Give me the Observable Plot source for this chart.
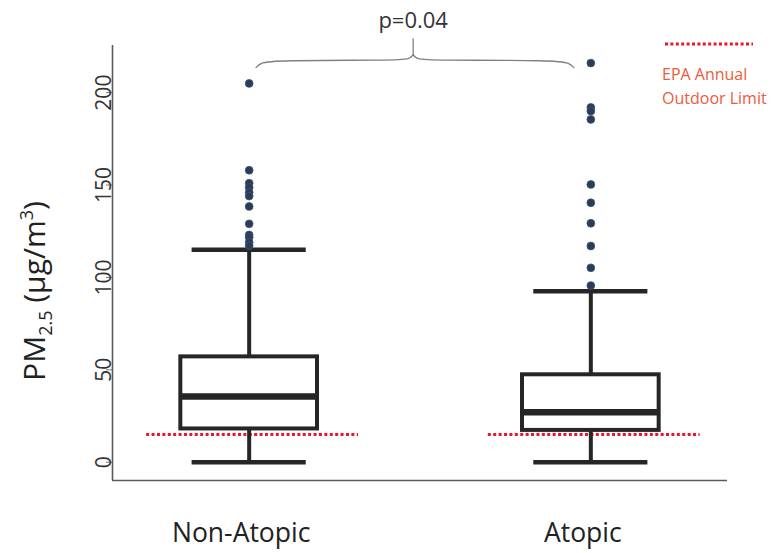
<!DOCTYPE html>
<html>
<head>
<meta charset="utf-8">
<script src="https://cdn.jsdelivr.net/npm/d3@7"></script>
<script src="https://cdn.jsdelivr.net/npm/@observablehq/plot@0.6"></script>
<style>
  html, body { margin: 0; padding: 0; background: #fff; }
  #chart { position: relative; width: 780px; height: 553px; }
</style>
</head>
<body>
<div id="chart"></div>
<script>
// ---- data ----
const groups = ["Non-Atopic", "Atopic"];
const whiskerLow = [0, 0];
const q1 = [18, 17.2];
const median = [35.5, 27];
const q3 = [57, 47.3];
const whiskerHigh = [115, 92.5];
const outliersNonAtopic = [205, 158, 151, 148.7, 146, 144, 138.4, 129, 123, 121.7, 119, 117.2];
const outliersAtopic = [216, 192, 190, 185.5, 150.3, 140.4, 129.3, 117, 105.2, 95.6];
const epaLimit = 15;
const yTicks = [0, 50, 100, 150, 200];
const pLabel = "p=0.04";
const legendLines = ["EPA Annual", "Outdoor Limit"];

// ---- derived tables ----
const xDomain = [-0.4, 1.4];
const yDomain = [-9.9, 225.5];
const boxHalf = 0.2, capHalf = 0.167;
const boxes = groups.map((g, i) => ({g, i, lo: whiskerLow[i], q1: q1[i], med: median[i], q3: q3[i], hi: whiskerHigh[i]}));
const outliers = [
  ...outliersNonAtopic.map(v => ({i: 0, v})),
  ...outliersAtopic.map(v => ({i: 1, v}))
];
const caps = boxes.flatMap(b => [{i: b.i, v: b.lo}, {i: b.i, v: b.hi}]);
const epa = boxes.map(b => ({i: b.i, x1: b.i - 0.3, x2: b.i + 0.32, v: epaLimit}));

// brace between the two groups
const bx0 = 0 + 0.02, bx1 = 1 - 0.05, bmid = (bx0 + bx1) / 2 - 0.005;
const bY = 217.5, bDrop = 4, bTip = 229;
const brace = [
  {part: "L", x: bx0, y: bY - bDrop}, {part: "L", x: bx0 + 0.012, y: bY - 1.5}, {part: "L", x: bx0 + 0.05, y: bY},
  {part: "L", x: bmid - 0.05, y: bY}, {part: "L", x: bmid - 0.01, y: bY + 0.6}, {part: "L", x: bmid, y: bY + 3},
  {part: "R", x: bmid, y: bY + 3}, {part: "R", x: bmid + 0.01, y: bY + 0.6}, {part: "R", x: bmid + 0.05, y: bY},
  {part: "R", x: bx1 - 0.05, y: bY}, {part: "R", x: bx1 - 0.012, y: bY - 1.5}, {part: "R", x: bx1, y: bY - bDrop}
];
const stem = [{x: bmid, y1: bY + 2, y2: bTip}];

const ink = "#262626";

const chart = Plot.plot({
  width: 780,
  height: 553,
  marginTop: 45,
  marginBottom: 73,
  marginLeft: 112,
  marginRight: 53,
  style: {fontFamily: "'Open Sans', sans-serif", background: "#fff"},
  x: {domain: xDomain, axis: null},
  y: {domain: yDomain, axis: null},
  marks: [
    // axes
    Plot.ruleX([xDomain[0]], {stroke: "#5a5a5a", strokeWidth: 1.6}),
    Plot.ruleY([yDomain[0]], {stroke: "#5a5a5a", strokeWidth: 1.6}),
    Plot.axisY(yTicks, {tickSize: 6, tickFormat: () => "", stroke: "#777", label: null}),
    Plot.text(yTicks, {y: d => d, text: d => String(d), frameAnchor: "left", rotate: -90,
      textAnchor: "middle", lineAnchor: "bottom", dx: -2, fontSize: 21, fill: "#333"}),
    Plot.axisX([0, 1], {tickSize: 0, tickPadding: 43, tickFormat: i => groups[i],
      fontSize: 26.5, fill: "#222", dx: -8, label: null}),
    // boxes
    Plot.rect(boxes, {x1: d => d.i - boxHalf, x2: d => d.i + boxHalf, y1: "q1", y2: "q3",
      fill: "#fff", stroke: ink, strokeWidth: 4}),
    Plot.ruleY(boxes, {x1: d => d.i - boxHalf, x2: d => d.i + boxHalf, y: "med", stroke: ink, strokeWidth: 6.5}),
    // EPA limit
    Plot.ruleY(epa, {x1: "x1", x2: "x2", y: "v", stroke: "#e8172f", strokeWidth: 3, strokeDasharray: "3,2.4"}),
    // whiskers
    Plot.ruleX(boxes, {x: "i", y1: "q3", y2: "hi", stroke: ink, strokeWidth: 4}),
    Plot.ruleX(boxes, {x: "i", y1: "lo", y2: "q1", stroke: ink, strokeWidth: 4}),
    Plot.ruleY(caps, {x1: d => d.i - capHalf, x2: d => d.i + capHalf, y: "v", stroke: ink, strokeWidth: 4.5}),
    // outliers
    Plot.dot(outliers, {x: "i", y: "v", r: 3.9, fill: "#2b3c57", stroke: "#3d5578", strokeWidth: 0.8}),
    // brace and p-value
    Plot.line(brace, {x: "x", y: "y", z: "part", curve: "basis", stroke: "#808080", strokeWidth: 1.3}),
    Plot.ruleX(stem, {x: "x", y1: "y1", y2: "y2", stroke: "#808080", strokeWidth: 1.3}),
    Plot.text([pLabel], {x: bmid, y: 235, text: d => d, lineAnchor: "bottom", fontSize: 22, fill: "#333"})
  ]
});

const svg = d3.select(chart);

// y-axis title with subscript / superscript
const yl = svg.append("text")
  .attr("transform", "translate(45,291) rotate(-90)")
  .attr("text-anchor", "middle")
  .attr("fill", "#222")
  .attr("font-size", 30)
  .attr("font-family", "'Open Sans', sans-serif");
yl.append("tspan").text("PM");
yl.append("tspan").attr("font-size", 18).attr("dy", 7).text("2.5");
yl.append("tspan").attr("dy", -7).text(" (µg/m");
yl.append("tspan").attr("font-size", 18).attr("dy", -12).text("3");
yl.append("tspan").attr("dy", 12).text(")");

// legend
svg.append("line")
  .attr("x1", 665).attr("x2", 753).attr("y1", 44).attr("y2", 44)
  .attr("stroke", "#e8172f").attr("stroke-width", 3).attr("stroke-dasharray", "3,2.4");
legendLines.forEach((t, k) => {
  svg.append("text")
    .attr("x", 662).attr("y", 80 + k * 24)
    .attr("text-anchor", "start")
    .attr("fill", "#ee5a3a")
    .attr("font-size", 16)
    .attr("font-family", "'Open Sans', sans-serif")
    .text(t);
});

document.getElementById("chart").appendChild(chart);
</script>
</body>
</html>
